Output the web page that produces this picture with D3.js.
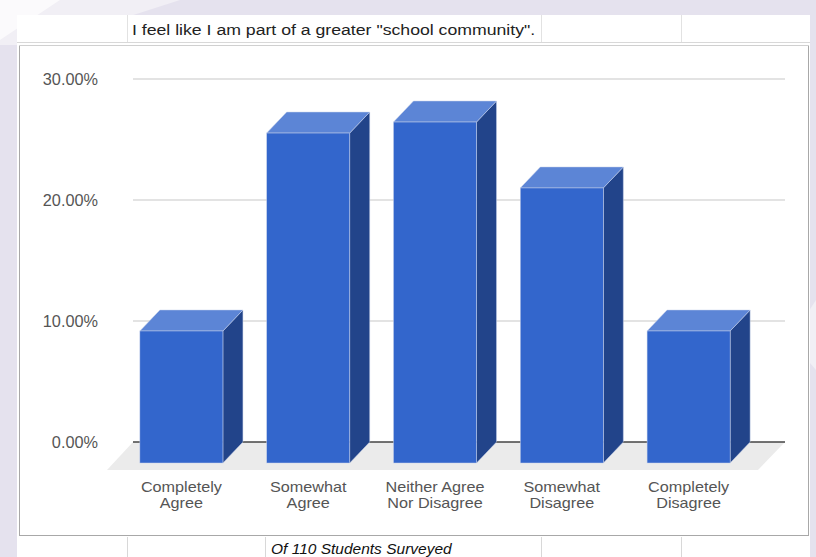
<!DOCTYPE html>
<html><head><meta charset="utf-8">
<script src="https://cdn.jsdelivr.net/npm/d3@7"></script>
<style>html,body{margin:0;padding:0;background:#e5e2ee;}svg{display:block;}</style>
</head><body>
<script>
const title = 'I feel like I am part of a greater "school community".';
const footer = "Of 110 Students Surveyed";
const categories = ["Completely\nAgree", "Somewhat\nAgree", "Neither Agree\nNor Disagree", "Somewhat\nDisagree", "Completely\nDisagree"];
const values = [10.91, 27.27, 28.18, 22.73, 10.91];
const yTicks = [0, 10, 20, 30];

const W = 816, H = 557;
const svg = d3.select("body").append("svg").attr("width", W).attr("height", H);
const font = "'Liberation Sans', Arial, sans-serif";

// background
svg.append("rect").attr("width", W).attr("height", H).attr("fill", "#e5e2ee");
svg.append("polygon").attr("points", "0,0 180,0 40,45 0,45").attr("fill", "#f1eff5");
svg.append("polygon").attr("points", "0,0 60,0 0,40").attr("fill", "#fbfafc");
svg.append("polygon").attr("points", "816,300 816,370 790,340").attr("fill", "#f1eff5");

// sheet
svg.append("rect").attr("x", 17).attr("y", 15).attr("width", 793).attr("height", 542).attr("fill", "#fff");
[127, 541, 681].forEach(x => svg.append("line").attr("x1", x + .5).attr("x2", x + .5).attr("y1", 15).attr("y2", 42).attr("stroke", "#e2e2e2"));
svg.append("line").attr("x1", 17).attr("x2", 810).attr("y1", 42.5).attr("y2", 42.5).attr("stroke", "#d8d8d8");
[127, 265, 541, 681].forEach(x => svg.append("line").attr("x1", x + .5).attr("x2", x + .5).attr("y1", 537).attr("y2", 557).attr("stroke", "#d8d8d8"));

// chart box
svg.append("rect").attr("x", 19.5).attr("y", 45.5).attr("width", 789).attr("height", 490).attr("fill", "#fff").attr("stroke", "#a8a8a8");
svg.append("line").attr("x1", 19).attr("x2", 809).attr("y1", 45.5).attr("y2", 45.5).attr("stroke", "#d0d0d0");

svg.append("g").attr("transform", "translate(132,35) scale(1.14,1)")
  .append("text").attr("font-family", font).attr("font-size", 15.5).attr("fill", "#222").text(title);
svg.append("text").attr("x", 271).attr("y", 554).attr("font-family", font).attr("font-size", 15.5).attr("font-style", "italic").attr("fill", "#111").text(footer);

const y = d3.scaleLinear().domain([0, 30]).range([442, 79]);
const x = d3.scaleBand().domain(categories).range([138, 772]).paddingInner(0.345).paddingOuter(0.1725);
const dx = -20, dy = 21;
const gx0 = 133, gx1 = 785;

const g = svg.append("g");
g.selectAll("line.grid").data(yTicks.filter(d => d > 0)).join("line")
  .attr("x1", gx0).attr("x2", gx1).attr("y1", d => y(d)).attr("y2", d => y(d))
  .attr("stroke", "#e3e3e3").attr("stroke-width", 2);
g.append("polygon").attr("points", [[gx0, y(0)], [gx1, y(0)], [gx1 - 27, y(0) + 28], [gx0 - 26, y(0) + 28]].map(p => p.join(",")).join(" "))
  .attr("fill", "#ebebeb");
g.append("line").attr("x1", gx0).attr("x2", gx1).attr("y1", y(0)).attr("y2", y(0)).attr("stroke", "#444").attr("stroke-width", 1.3);

const yAxis = d3.axisLeft(y).tickValues(yTicks).tickFormat(d => d.toFixed(2) + "%").tickSize(0).tickPadding(0);
const ya = svg.append("g").attr("transform", "translate(98,0)").call(yAxis);
ya.select(".domain").remove();
ya.selectAll("text").attr("font-family", font).attr("font-size", 16.3).attr("fill", "#555").attr("dy", "0.35em");

const bars = svg.append("g").selectAll("g").data(categories.map((c, i) => ({c, v: values[i]}))).join("g");
const bw = x.bandwidth();
bars.each(function(d) {
  const gg = d3.select(this);
  const bx = x(d.c), yt = y(d.v), yb = y(0);
  const pts = a => a.map(p => p.join(",")).join(" ");
  gg.append("polygon").attr("points", pts([[bx + bw + dx, yt + dy], [bx + bw, yt], [bx + bw, yb], [bx + bw + dx, yb + dy]]))
    .attr("fill", "#22448a").attr("stroke", "#c8d2ea").attr("stroke-width", 0.5);
  gg.append("polygon").attr("points", pts([[bx + dx, yt + dy], [bx, yt], [bx + bw, yt], [bx + bw + dx, yt + dy]]))
    .attr("fill", "#5c85d6").attr("stroke", "#c8d2ea").attr("stroke-width", 0.5);
  gg.append("rect").attr("x", bx + dx).attr("y", yt + dy).attr("width", bw).attr("height", yb - yt)
    .attr("fill", "#3366cc").attr("stroke", "#c8d2ea").attr("stroke-width", 0.5);
});

const labs = svg.append("g").selectAll("g").data(categories).join("g")
  .attr("transform", d => `translate(${x(d) + bw / 2 + dx},492) scale(1.08,1)`);
labs.each(function(d) {
  const t = d3.select(this);
  d.split("\n").forEach((line, i) => t.append("text").attr("x", 0).attr("y", i * 16)
    .attr("text-anchor", "middle").attr("font-family", font).attr("font-size", 15).attr("fill", "#555").text(line));
});
</script>
</body></html>
